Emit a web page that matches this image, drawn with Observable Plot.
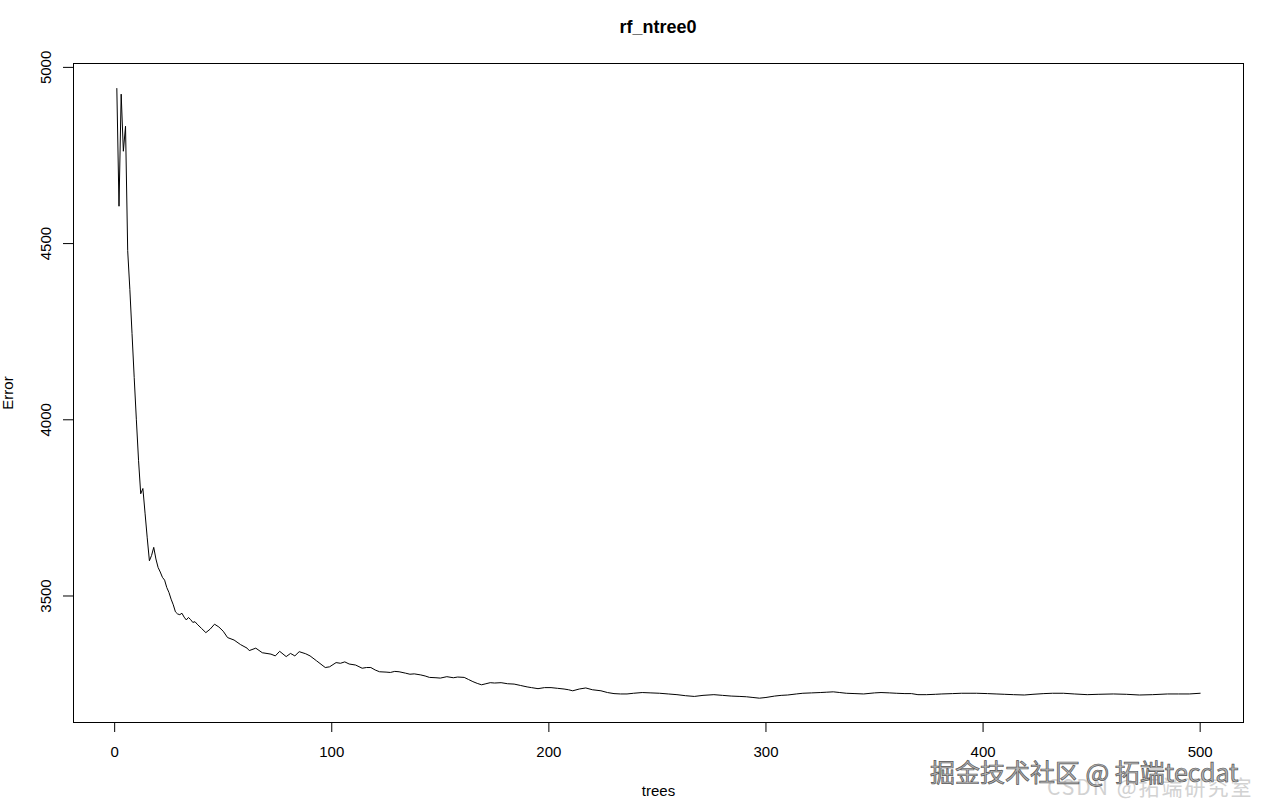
<!DOCTYPE html>
<html>
<head>
<meta charset="utf-8">
<script src="https://cdn.jsdelivr.net/npm/d3@7"></script>
<script src="https://cdn.jsdelivr.net/npm/@observablehq/plot@0.6"></script>
<style>
  html, body { margin: 0; padding: 0; background: #fff; }
  #wrap { position: relative; width: 1264px; height: 810px; overflow: hidden; }
  #title { height: 50px; width: 1170px; padding-left: 73px; text-align: center;
           font: bold 18px "Liberation Sans", Arial, sans-serif; line-height: 54px; color: #000; }
  .wm1 { position: absolute; left: 930px; top: 759px; font: 25px "Noto Sans CJK SC", sans-serif; line-height: 1;
         color: #b5b5b5; -webkit-text-stroke: 0.7px #555; white-space: nowrap; }
  .wm2 { position: absolute; left: 1047px; top: 776px; font: 21px "Noto Sans CJK SC", sans-serif; line-height: 1;
         letter-spacing: 2px; color: #d2d2d2; white-space: nowrap; }
</style>
</head>
<body>
<div id="wrap">
  <div id="title">rf_ntree0</div>
  <div id="chart"></div>
  <div class="wm2">CSDN @拓端研究室</div>
  <div class="wm1">掘金技术社区 @ 拓端tecdat</div>
</div>
<script>
const trees = [1,2,3,4,5,6,7,8,9,10,11,12,13,14,15,16,17,18,19,20,21,22,23,24,25,26,27,28,29,30,31,32,33,34,35,36,37,38,40,42,44,46,48,50,52,55,58,61,62,65,68,72,74,76,79,81,83,85,88,90,93,97,99,102,104,106,108,111,114,116,118,120,122,125,127,129,131,134,136,138,141,143,145,148,150,153,156,158,161,163,165,167,169,171,173,175,178,181,184,187,190,192,195,198,201,204,207,209,211,214,217,220,224,227,230,233,236,239,243,247,251,255,259,263,267,271,276,280,284,288,291,294,297,300,304,307,310,314,317,321,325,328,331,334,337,341,345,350,353,357,360,364,367,370,374,378,381,386,390,394,397,402,406,410,414,419,423,428,432,437,442,448,453,460,466,472,478,485,490,495,500];
const errors = [4940,4606,4924,4762,4833,4480,4370,4245,4120,4000,3885,3790,3805,3735,3665,3600,3615,3638,3605,3581,3568,3553,3545,3524,3510,3491,3475,3455,3449,3447,3451,3440,3432,3439,3433,3425,3427,3420,3408,3396,3406,3420,3412,3400,3382,3375,3362,3352,3345,3352,3339,3335,3330,3343,3328,3337,3330,3342,3336,3330,3316,3297,3299,3311,3309,3313,3307,3304,3295,3297,3297,3290,3285,3284,3283,3286,3285,3281,3278,3279,3276,3273,3269,3268,3267,3271,3268,3270,3269,3263,3257,3252,3248,3251,3254,3253,3254,3251,3250,3246,3242,3240,3237,3240,3240,3238,3236,3234,3231,3236,3239,3234,3231,3226,3223,3222,3222,3224,3226,3225,3224,3222,3220,3217,3215,3218,3220,3218,3216,3215,3214,3212,3210,3212,3216,3218,3219,3222,3224,3225,3226,3227,3228,3226,3224,3223,3222,3225,3226,3225,3224,3223,3223,3220,3220,3221,3222,3223,3224,3224,3224,3223,3222,3221,3220,3219,3221,3223,3224,3224,3222,3220,3221,3222,3221,3219,3220,3222,3222,3222,3224];
const xTicks = [0, 100, 200, 300, 400, 500];
const yTicks = [3500, 4000, 4500, 5000];
const titleText = "rf_ntree0";
const xLabel = "trees";
const yLabel = "Error";

const data = trees.map((t, i) => ({tree: t, error: errors[i]}));

const chart = Plot.plot({
  width: 1264,
  height: 760,
  marginTop: 13,
  marginLeft: 73,
  marginRight: 21,
  marginBottom: 88,
  style: {fontFamily: "'Liberation Sans', Arial, sans-serif", fontSize: "15px", color: "#000", background: "#fff", overflow: "visible"},
  x: {domain: [-18.96, 519.96]},
  y: {domain: [3141, 5011]},
  marks: [
    Plot.frame({stroke: "#000", strokeWidth: 1}),
    Plot.axisX({ticks: xTicks, tickSize: 10, tickPadding: 14, tickFormat: d => String(d),
      label: xLabel, labelAnchor: "center", labelOffset: 73, labelArrow: "none"}),
    Plot.axisY({ticks: yTicks, tickSize: 10, tickPadding: 13, tickRotate: -90, tickFormat: d => String(d),
      label: yLabel, labelAnchor: "center", labelOffset: 71, labelArrow: "none"}),
    Plot.lineY(data, {x: "tree", y: "error", stroke: "#000", strokeWidth: 1})
  ]
});
document.getElementById("title").textContent = titleText;
document.getElementById("chart").appendChild(chart);
</script>
</body>
</html>
